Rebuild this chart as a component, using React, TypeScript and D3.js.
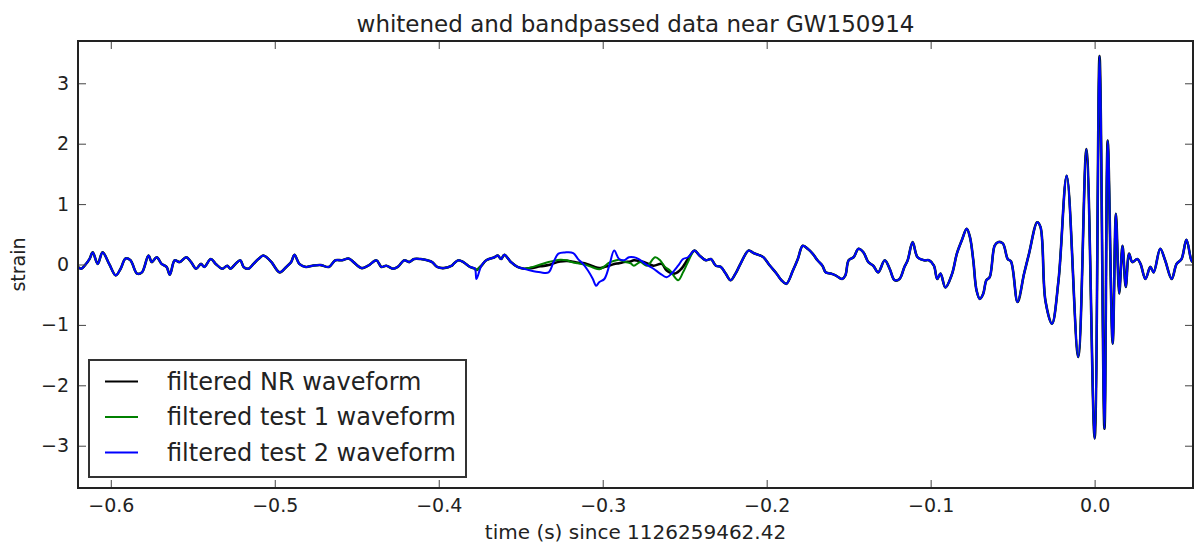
import React from 'react';
import * as d3 from 'd3';

// time (s) since 1126259462.42, strain
// part shared by all three traces before they separate
const leadIn: [number, number][] = [
  [-0.620, -0.04], [-0.618, -0.07], [-0.616, -0.02], [-0.613, 0.09], [-0.611, 0.20],
  [-0.608, 0.01], [-0.605, 0.20], [-0.601, 0.01], [-0.597, -0.18], [-0.594, -0.07],
  [-0.591, 0.10], [-0.588, 0.07], [-0.584, -0.15], [-0.581, -0.13], [-0.577, 0.15],
  [-0.575, 0.04], [-0.572, 0.12], [-0.569, 0.01], [-0.566, -0.04], [-0.564, -0.17],
  [-0.561, 0.07], [-0.558, 0.04], [-0.554, 0.12], [-0.551, 0.04], [-0.548, -0.07],
  [-0.545, 0.01], [-0.543, -0.04], [-0.539, 0.09], [-0.536, 0.01], [-0.532, -0.07],
  [-0.529, -0.02], [-0.527, -0.07], [-0.524, 0.01], [-0.521, 0.07], [-0.519, -0.04],
  [-0.516, -0.07], [-0.513, 0.01], [-0.510, 0.09], [-0.507, 0.15], [-0.505, 0.12],
  [-0.502, 0.04], [-0.497, -0.13], [-0.493, -0.04], [-0.490, 0.04], [-0.488, 0.16],
  [-0.485, 0.01], [-0.481, -0.04], [-0.477, -0.02], [-0.472, -0.01], [-0.467, -0.04],
  [-0.463, 0.07], [-0.459, 0.07], [-0.455, 0.10], [-0.452, 0.04], [-0.447, -0.06],
  [-0.443, -0.02], [-0.438, 0.07], [-0.435, -0.04], [-0.432, -0.02], [-0.428, -0.07],
  [-0.425, -0.04], [-0.421, 0.07], [-0.418, 0.04], [-0.415, 0.09], [-0.411, 0.09],
  [-0.407, 0.07], [-0.404, 0.04], [-0.401, -0.04], [-0.397, -0.06], [-0.392, -0.02],
  [-0.391, 0.01], [-0.388, 0.07], [-0.385, 0.04], [-0.381, -0.04], [-0.378, -0.07],
];

const nrWindow: [number, number][] = [
  [-0.377, -0.09], [-0.374, -0.02], [-0.371, 0.07], [-0.366, 0.12], [-0.364, 0.15],
  [-0.362, 0.09], [-0.360, 0.16], [-0.356, 0.04], [-0.352, -0.04], [-0.348, -0.07],
  [-0.344, -0.06], [-0.338, -0.03], [-0.333, -0.01], [-0.330, 0.02], [-0.326, 0.05],
  [-0.322, 0.06], [-0.319, 0.05], [-0.315, 0.03], [-0.311, 0.02], [-0.306, -0.03],
  [-0.302, -0.06], [-0.299, -0.04], [-0.296, -0.02], [-0.293, 0.01], [-0.290, 0.02],
  [-0.287, 0.04], [-0.283, 0.05], [-0.281, 0.07], [-0.275, 0.04], [-0.269, -0.02],
  [-0.264, 0.01], [-0.261, -0.10], [-0.256, -0.15], [-0.252, -0.07], [-0.248, 0.09],
];

const test1Window: [number, number][] = [
  [-0.377, -0.09], [-0.374, -0.02], [-0.371, 0.07], [-0.366, 0.12], [-0.364, 0.15],
  [-0.362, 0.09], [-0.360, 0.16], [-0.356, 0.04], [-0.352, -0.04], [-0.348, -0.07],
  [-0.344, -0.05], [-0.338, 0.00], [-0.333, 0.04], [-0.330, 0.06], [-0.326, 0.08],
  [-0.322, 0.07], [-0.319, 0.04], [-0.315, 0.02], [-0.311, 0.00], [-0.306, -0.05],
  [-0.302, -0.08], [-0.299, -0.03], [-0.296, 0.03], [-0.293, 0.06], [-0.290, 0.08],
  [-0.287, 0.05], [-0.283, 0.02], [-0.281, -0.02], [-0.277, 0.04], [-0.273, -0.02],
  [-0.268, 0.12], [-0.265, 0.07], [-0.262, -0.04], [-0.259, -0.10], [-0.254, -0.26],
  [-0.251, -0.13], [-0.248, 0.04],
];

const test2Window: [number, number][] = [
  [-0.377, -0.24], [-0.374, -0.02], [-0.371, 0.07], [-0.366, 0.12], [-0.364, 0.15],
  [-0.362, 0.09], [-0.360, 0.16], [-0.356, 0.04], [-0.352, -0.04], [-0.348, -0.07],
  [-0.344, -0.10], [-0.338, -0.13], [-0.333, -0.13], [-0.330, 0.04], [-0.327, 0.18],
  [-0.323, 0.20], [-0.318, 0.19], [-0.315, 0.09], [-0.312, 0.01], [-0.309, -0.10],
  [-0.306, -0.24], [-0.304, -0.35], [-0.302, -0.29], [-0.299, -0.24], [-0.296, -0.02],
  [-0.293, 0.23], [-0.290, 0.09], [-0.287, 0.07], [-0.284, 0.12], [-0.281, 0.12],
  [-0.278, 0.09], [-0.274, 0.01], [-0.269, -0.07], [-0.265, -0.15], [-0.261, -0.21],
  [-0.258, -0.15], [-0.254, -0.02], [-0.251, 0.09], [-0.248, 0.12],
];

// shared again from here on, including the chirp
const tail: [number, number][] = [
  [-0.244, 0.23], [-0.241, 0.15], [-0.237, 0.07], [-0.234, 0.09], [-0.231, -0.02],
  [-0.228, -0.04], [-0.225, -0.15], [-0.222, -0.26], [-0.219, -0.15], [-0.216, 0.01],
  [-0.211, 0.23], [-0.208, 0.19], [-0.205, 0.16], [-0.202, 0.12], [-0.198, -0.02],
  [-0.194, -0.15], [-0.191, -0.26], [-0.188, -0.32], [-0.184, -0.10], [-0.181, 0.09],
  [-0.178, 0.31], [-0.175, 0.26], [-0.172, 0.18], [-0.169, 0.07], [-0.166, -0.02],
  [-0.164, -0.13], [-0.161, -0.15], [-0.158, -0.18], [-0.154, -0.24], [-0.152, -0.18],
  [-0.150, 0.07], [-0.147, 0.12], [-0.144, 0.26], [-0.141, 0.20], [-0.138, 0.04],
  [-0.135, -0.02], [-0.132, -0.13], [-0.128, 0.07], [-0.125, -0.07], [-0.122, -0.26],
  [-0.119, -0.24], [-0.116, -0.04], [-0.114, 0.07], [-0.111, 0.37], [-0.108, 0.12],
  [-0.104, 0.07], [-0.101, 0.07], [-0.098, -0.02], [-0.096, -0.24], [-0.094, -0.15],
  [-0.091, -0.38], [-0.087, -0.16], [-0.084, 0.18], [-0.081, 0.40], [-0.078, 0.59],
  [-0.076, 0.45], [-0.074, 0.07], [-0.072, -0.43], [-0.070, -0.57], [-0.068, -0.49],
  [-0.066, -0.26], [-0.064, -0.21], [-0.061, 0.31], [-0.059, 0.37], [-0.056, 0.35],
  [-0.053, 0.09], [-0.051, 0.05], [-0.047, -0.62], [-0.043, -0.15], [-0.040, 0.18],
  [-0.035, 0.70], [-0.033, 0.62], [-0.030, -0.60], [-0.026, -0.98], [-0.022, -0.26],
  [-0.017, 1.47], [-0.010, -1.53], [-0.005, 1.91], [0.000, -2.88], [0.003, 3.45],
  [0.006, -2.72], [0.008, 2.05], [0.011, -1.31], [0.013, 0.84], [0.015, -0.48],
  [0.017, 0.31], [0.019, -0.37], [0.021, 0.18], [0.023, 0.04], [0.026, 0.09],
  [0.028, 0.01], [0.031, -0.24], [0.034, -0.04], [0.036, -0.13], [0.040, 0.26],
  [0.043, 0.07], [0.047, -0.24], [0.050, 0.01], [0.053, 0.09], [0.056, 0.41],
  [0.059, 0.07], [0.060, 0.04],
];

const seriesNames = ['filtered NR waveform', 'filtered test 1 waveform', 'filtered test 2 waveform'];
const seriesColors = ['#000000', '#008000', '#0000ff'];
const xTicks = [-0.6, -0.5, -0.4, -0.3, -0.2, -0.1, 0.0];
const yTicks = [-3, -2, -1, 0, 1, 2, 3];

const W = 1194, H = 544;
const margin = { top: 41, right: 1, bottom: 56, left: 78 };
const font = '"DejaVu Sans", sans-serif';

export default function App() {
  const svgRef = React.useRef<SVGSVGElement>(null);

  React.useEffect(() => {
    const series = [
      [...leadIn, ...nrWindow, ...tail],
      [...leadIn, ...test1Window, ...tail],
      [...leadIn, ...test2Window, ...tail],
    ];
    const widths = [2.6, 2, 2];
    const x = d3.scaleLinear().domain([-0.62, 0.06]).range([margin.left, W - margin.right]);
    const y = d3.scaleLinear().domain([-3.7, 3.7]).range([H - margin.bottom, margin.top]);

    const svg = d3.select(svgRef.current);
    svg.selectAll('*').remove();

    svg.append('clipPath').attr('id', 'plot')
      .append('rect')
      .attr('x', margin.left).attr('y', margin.top)
      .attr('width', W - margin.left - margin.right)
      .attr('height', H - margin.top - margin.bottom);

    const line = d3.line<[number, number]>()
      .x(d => x(d[0]))
      .y(d => y(d[1]))
      .curve(d3.curveCatmullRom.alpha(0.5));

    // black first, blue last (on top)
    svg.append('g').attr('clip-path', 'url(#plot)')
      .selectAll('path')
      .data(series)
      .enter()
      .append('path')
      .attr('fill', 'none')
      .attr('stroke', (_, i) => seriesColors[i])
      .attr('stroke-width', (_, i) => widths[i])
      .attr('stroke-linejoin', 'round')
      .attr('d', d => line(d));

    // ticks point inward on all four sides
    const styleAxis = (g: any) => {
      g.select('.domain').remove();
      g.selectAll('line').attr('stroke', '#444').attr('stroke-width', 1);
      g.selectAll('text').attr('fill', '#222').attr('font-size', 19).attr('font-family', font);
    };
    svg.append('g')
      .attr('transform', `translate(0,${H - margin.bottom})`)
      .call(d3.axisBottom(x).tickValues(xTicks).tickSizeInner(-8).tickSizeOuter(0).tickPadding(11).tickFormat(d3.format('.1f')))
      .call(styleAxis);
    svg.append('g')
      .attr('transform', `translate(0,${margin.top})`)
      .call(d3.axisTop(x).tickValues(xTicks).tickSizeInner(-8).tickSizeOuter(0).tickFormat(() => ''))
      .call(styleAxis);
    svg.append('g')
      .attr('transform', `translate(${margin.left},0)`)
      .call(d3.axisLeft(y).tickValues(yTicks).tickSizeInner(-8).tickSizeOuter(0).tickPadding(9).tickFormat(d3.format('d')))
      .call(styleAxis);
    svg.append('g')
      .attr('transform', `translate(${W - margin.right},0)`)
      .call(d3.axisRight(y).tickValues(yTicks).tickSizeInner(-8).tickSizeOuter(0).tickFormat(() => ''))
      .call(styleAxis);

    svg.append('rect')
      .attr('x', margin.left).attr('y', margin.top)
      .attr('width', W - margin.left - margin.right)
      .attr('height', H - margin.top - margin.bottom)
      .attr('fill', 'none').attr('stroke', '#222').attr('stroke-width', 2);

    svg.append('text')
      .attr('x', (margin.left + W - margin.right) / 2).attr('y', 32)
      .attr('text-anchor', 'middle').attr('font-size', 23).attr('font-family', font).attr('fill', '#222')
      .text('whitened and bandpassed data near GW150914');
    svg.append('text')
      .attr('x', (margin.left + W - margin.right) / 2).attr('y', 539)
      .attr('text-anchor', 'middle').attr('font-size', 20).attr('font-family', font).attr('fill', '#222')
      .text('time (s) since 1126259462.42');
    svg.append('text')
      .attr('transform', `translate(25,${(margin.top + H - margin.bottom) / 2}) rotate(-90)`)
      .attr('text-anchor', 'middle').attr('font-size', 19).attr('font-family', font).attr('fill', '#222')
      .text('strain');

    // legend, lower left
    const legend = svg.append('g');
    legend.append('rect')
      .attr('x', 89).attr('y', 360).attr('width', 377).attr('height', 117)
      .attr('fill', '#fff').attr('stroke', '#333').attr('stroke-width', 2);
    const rows = legend.selectAll('g.row').data(seriesNames).enter().append('g')
      .attr('transform', (_, i) => `translate(0,${381.5 + i * 35.5})`);
    rows.append('line')
      .attr('x1', 105).attr('x2', 138)
      .attr('stroke', (_, i) => seriesColors[i]).attr('stroke-width', 2);
    rows.append('text')
      .attr('x', 167).attr('dy', '0.35em')
      .attr('font-size', 24).attr('font-family', font).attr('fill', '#222')
      .text(d => d);
  }, []);

  return (
    <svg ref={svgRef} width={W} height={H}
      style={{ position: 'fixed', left: 0, top: 0, background: '#fff' }} />
  );
}
